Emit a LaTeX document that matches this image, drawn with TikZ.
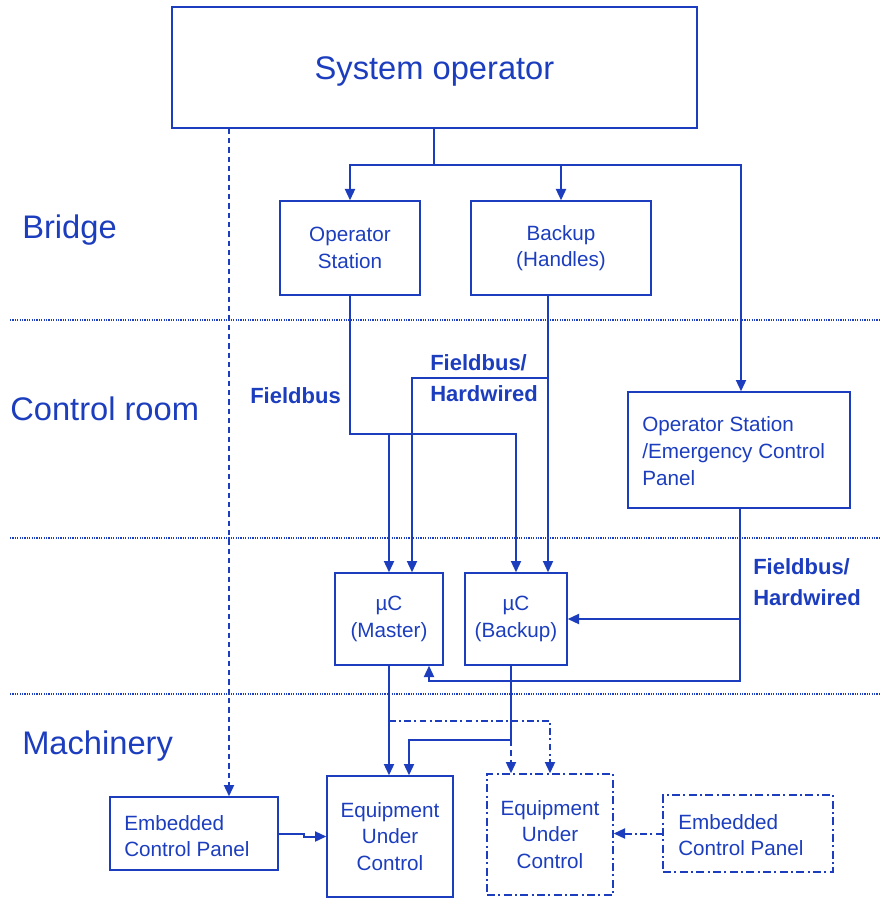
\documentclass[tikz,border=0pt]{standalone}
\usepackage{fontspec}
\setmainfont{Liberation Sans}
\usetikzlibrary{arrows.meta,calc}
\definecolor{blu}{RGB}{28,62,190}
\tikzset{
  x=0.75pt, y=-0.75pt,
  every node/.style={text=blu, font=\fontsize{15.5}{20}\selectfont},
  box/.style={draw=blu, line width=1pt, rectangle, inner sep=0pt, align=center},
  ddbox/.style={box, dash pattern=on 6pt off 2.5pt on 1.5pt off 2.5pt},
  conn/.style={draw=blu, line width=1.5pt},
  arr/.style={conn, -{Triangle[length=8.5pt,width=7.5pt]}},
  darr/.style={arr, dash pattern=on 4pt off 3pt},
  ddarr/.style={arr, dash pattern=on 5pt off 2.5pt on 1.5pt off 2.5pt},
  sep/.style={draw=blu, line width=1pt, dash pattern=on 0.9pt off 0.9pt},
  zone/.style={font=\fontsize{24.5}{28}\selectfont, anchor=base west, inner sep=0pt},
  bus/.style={font=\bfseries\fontsize{16.5}{23}\selectfont, align=left, inner sep=0pt, anchor=west},
}
\begin{document}
\begin{tikzpicture}
\useasboundingbox (0,0) rectangle (880,898);

% deck separators
\draw[sep] (10,320) -- (880,320);
\draw[sep] (10,538) -- (880,538);
\draw[sep] (10,694) -- (880,694);

% zone names
\node[zone] (zbridge) at (22,239) {Bridge};
\node[zone] (zctrl) at (10,420) {Control room};
\node[zone] (zmach) at (22,754) {Machinery};

% boxes
\node[box, minimum width=525*0.75pt, minimum height=121*0.75pt] (sys) at (434.5,67.5) {};
\node[font=\fontsize{24.5}{28}\selectfont, inner sep=0pt, anchor=base] (systxt) at (434.5,80) {System operator};
\node[box, minimum width=140*0.75pt, minimum height=94*0.75pt] (os) at (350,248) {Operator\\Station};
\node[box, minimum width=180*0.75pt, minimum height=94*0.75pt] (bk) at (561,248) {Backup\\(Handles)};
\node[box, minimum width=222*0.75pt, minimum height=116*0.75pt] (ecp) at (739,450) {};
\node[align=left, anchor=west, inner sep=0pt] (ecptxt) at (642,451) {Operator Station\\/Emergency Control\\Panel};
\node[box, minimum width=108*0.75pt, minimum height=92*0.75pt] (master) at (389,619) {µC\\(Master)};
\node[box, minimum width=102*0.75pt, minimum height=92*0.75pt] (backup) at (516,619) {µC\\(Backup)};
\node[box, minimum width=168*0.75pt, minimum height=73*0.75pt] (ecpl) at (194,833.5) {};
\node[align=left, anchor=west, inner sep=0pt] (ecpltxt) at (124,836) {Embedded\\Control Panel};
\node[box, minimum width=126*0.75pt, minimum height=121*0.75pt] (eucs) at (390,836.5) {Equipment\\Under\\Control};
\node[ddbox, minimum width=126*0.75pt, minimum height=121*0.75pt] (eucd) at (550,834.5) {Equipment\\Under\\Control};
\node[ddbox, minimum width=170*0.75pt, minimum height=77*0.75pt] (ecpr) at (748,833.5) {};
\node[align=left, anchor=west, inner sep=0pt] (ecprtxt) at (678,835) {Embedded\\Control Panel};

% bus labels
\node[bus] (lfb) at (250,396) {Fieldbus};
\node[bus] (lfh1) at (430,378) {Fieldbus/\\Hardwired};
\node[bus] (lfh2) at (753,582) {Fieldbus/\\Hardwired};

% system operator distribution
\coordinate (j) at (434,165);
\draw[conn] (j |- sys.south) -- (j);
\draw[arr] (j) -| (os.north);
\draw[arr] (j) -| (bk.north);
\draw[arr] (j) -| ($(ecp.north)+(2,0)$);
\draw[darr] ($(sys.south)+(-205.5,0)$) -- ($(ecpl.north)+(35,0)$);

% operator station fieldbus
\coordinate (osbus) at (389,434);
\draw[arr] (os.south) |- (osbus) -| (backup.north);
\draw[arr] (osbus) -- (master.north);

% backup handles
\coordinate (bkout) at (548,295);
\coordinate (bkbr) at (548,378);
\draw[arr] (bkout) -- (bkout |- backup.north);
\draw[arr] (bkbr) -| ($(master.north)+(23,0)$);

% emergency panel
\coordinate (ecpout) at (740,508);
\draw[arr] (ecpout) |- (backup.east);
\draw[arr] (ecpout) |- ($(master.south)+(40,15)$) -- ($(master.south)+(40,0)$);

% controllers to equipment
\draw[arr] (master.south) -- (master.south |- eucs.north);
\draw[ddarr] ($(master.south)+(0,55)$) -| (eucd.north);
\coordinate (bkc) at (511,665);
\draw[arr] (bkc) |- ($(eucs.north)+(19,-35)$) -- ($(eucs.north)+(19,0)$);
\draw[darr] ($(bkc)+(0,76)$) -- (bkc |- eucd.north);

% local panels
\draw[arr] (ecpl.east) -- ++(25,0) |- (eucs.west);
\draw[ddarr] (ecpr.west) -- (ecpr.west -| eucd.east);
\end{tikzpicture}
\end{document}
